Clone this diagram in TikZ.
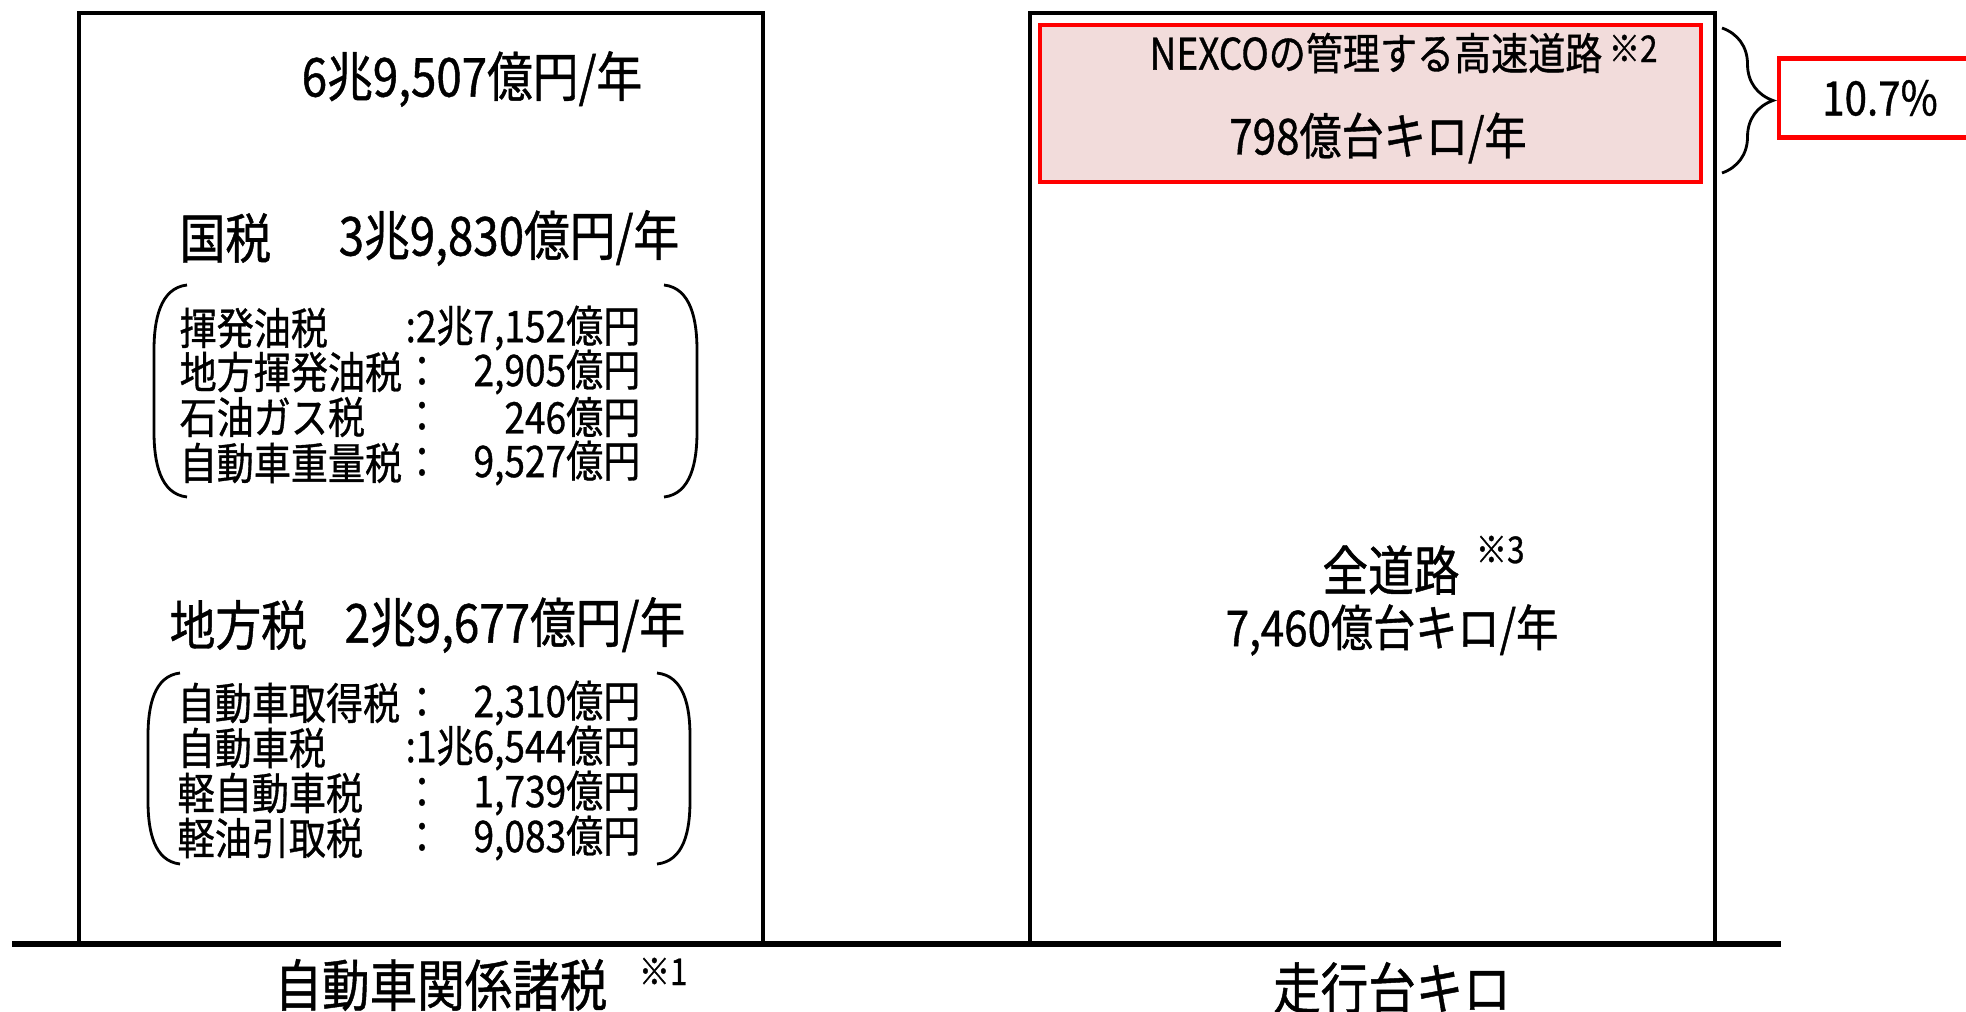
\documentclass[tikz,border=0pt]{standalone}
\usepackage{fontspec}
\setmainfont[FakeStretch=0.85, FakeBold=0.8]{Noto Sans CJK JP}
\usetikzlibrary{positioning,decorations.pathreplacing}
\definecolor{nexcofill}{HTML}{F2DCDB}

\tikzset{
  frame/.style={line width=1.3pt},
  ground/.style={line width=1.8pt},
  paren/.style={line width=0.8pt},
  head/.style={font=\fontsize{15.3}{18}\selectfont, inner sep=0pt},
  item/.style={font=\fontsize{12.4}{14}\selectfont, inner sep=0pt},
  mid/.style={font=\fontsize{14.1}{17}\selectfont, inner sep=0pt},
  note/.style={font=\fontsize{10.5}{12}\selectfont, inner sep=0pt},
  redbox/.style={draw=red, line width=1.3pt},
}

\begin{document}
\begin{tikzpicture}[x=0.01cm, y=-0.01cm]
  \useasboundingbox (0,0) rectangle (1966,1012);

  % two columns and the ground line
  \draw[frame] (79,13) rectangle (763,943);
  \draw[frame] (1030,13) rectangle (1715,943);
  \draw[redbox, fill=nexcofill] (1040,25) rectangle (1701,182);
  \draw[ground] (12,944) -- (1781,944);

  % left column
  \node[head] (total) at (472,79) {6兆9,507億円/年};
  \node[head, anchor=west] (kokuzei) at (179,238) {国税};
  \node[head, anchor=west] (kokuzeiv) at (338,238) {3兆9,830億円/年};

  \node[item, anchor=west] (k1) at (179,328) {揮発油税};
  \node[item, anchor=east] (k1v) at (641,328) {:2兆7,152億円};
  \node[item, anchor=west] (k2) at (179,372) {地方揮発油税};
  \node[item] (k2c) at (422,372) {：};
  \node[item, anchor=east] (k2v) at (641,372) {2,905億円};
  \node[item, anchor=west] (k3) at (179,417) {石油ガス税};
  \node[item] (k3c) at (422,417) {：};
  \node[item, anchor=east] (k3v) at (641,417) {246億円};
  \node[item, anchor=west] (k4) at (179,463) {自動車重量税};
  \node[item] (k4c) at (422,463) {：};
  \node[item, anchor=east] (k4v) at (641,463) {9,527億円};

  \draw[paren] (187,285) .. controls (160,288) and (154,320) .. (154,350) -- (154,432)
    .. controls (154,462) and (160,494) .. (187,497);
  \draw[paren] (664,285) .. controls (691,288) and (697,320) .. (697,350) -- (697,432)
    .. controls (697,462) and (691,494) .. (664,497);

  \node[head, anchor=west] (chiho) at (169,625) {地方税};
  \node[head, anchor=west] (chihov) at (344,625) {2兆9,677億円/年};

  \node[item, anchor=west] (c1) at (177,703) {自動車取得税};
  \node[item] (c1c) at (422,703) {：};
  \node[item, anchor=east] (c1v) at (641,703) {2,310億円};
  \node[item, anchor=west] (c2) at (177,748) {自動車税};
  \node[item, anchor=east] (c2v) at (641,748) {:1兆6,544億円};
  \node[item, anchor=west] (c3) at (177,793) {軽自動車税};
  \node[item] (c3c) at (422,793) {：};
  \node[item, anchor=east] (c3v) at (641,793) {1,739億円};
  \node[item, anchor=west] (c4) at (177,838) {軽油引取税};
  \node[item] (c4c) at (422,838) {：};
  \node[item, anchor=east] (c4v) at (641,838) {9,083億円};

  \draw[paren] (180,673) .. controls (154,676) and (148,706) .. (148,736) -- (148,801)
    .. controls (148,831) and (154,861) .. (180,864);
  \draw[paren] (657,673) .. controls (684,676) and (690,706) .. (690,736) -- (690,801)
    .. controls (690,831) and (684,861) .. (657,864);

  \node[head, font=\fontsize{15.9}{19}\selectfont] (taxlabel) at (441,985) {自動車関係諸税};
  \node[note, anchor=north west] (taxnote) at (638,957) {※1};

  % right column
  \node[item] (nexco) at (1376,53) {NEXCOの管理する高速道路};
  \node[note, anchor=north west] (nexconote) at (1608,34) {※2};
  \node[mid] (nexcov) at (1378,138) {798億台キロ/年};

  \node[head] (allroad) at (1391,570) {全道路};
  \node[note, anchor=north west] (allnote) at (1475,535) {※3};
  \node[mid] (allroadv) at (1392,630) {7,460億台キロ/年};

  \node[head, font=\fontsize{15.9}{19}\selectfont] (kmlabel) at (1392,988) {走行台キロ};

  % share of NEXCO roads
  \coordinate (bracetop) at (1722,28);
  \coordinate (bracebot) at (1722,173);
  \draw[paren, decorate, decoration={brace, amplitude=0.51cm}] (bracetop) -- (bracebot);
  \node[redbox, fill=white, font=\fontsize{13.5}{16}\selectfont,
        minimum width=2.02cm, minimum height=0.79cm] (share) at (1880,98) {10.7\%};
\end{tikzpicture}
\end{document}
